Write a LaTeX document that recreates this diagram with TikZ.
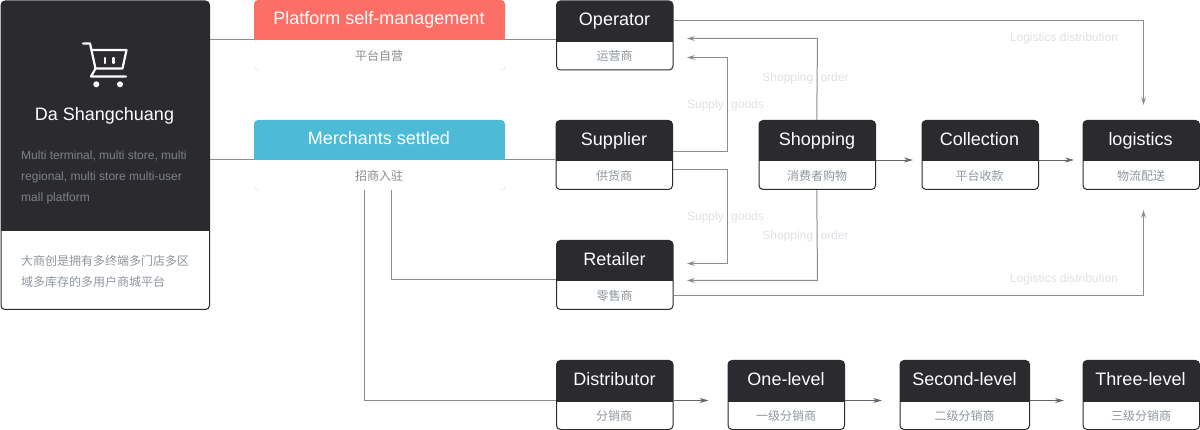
\documentclass[tikz,border=0pt]{standalone}
\usepackage{fontspec}
\setmainfont{Liberation Sans}
\newfontfamily\cjk{Noto Sans CJK SC}
\usetikzlibrary{arrows.meta}
\definecolor{cardink}{HTML}{2A2A2F}
\definecolor{cardred}{HTML}{FC6F66}
\definecolor{cardblue}{HTML}{4DBBD5}
\definecolor{linkgray}{HTML}{8A8C8E}
\definecolor{tipgray}{HTML}{60666C}
\definecolor{subgray}{HTML}{8E979F}
\definecolor{notegray}{HTML}{DDE0E4}
\definecolor{descgray}{HTML}{7C838B}
\tikzset{
	cardbox/.style={draw=cardink,line width=1pt,fill=white,rounded corners=4pt,anchor=north west,minimum height=69pt,inner sep=0pt,
		path picture={\fill[cardink,sharp corners] (path picture bounding box.north west) rectangle ([yshift=-41pt]path picture bounding box.north east);}},
	cardtitle/.style={text=white,font=\fontsize{18}{20}\selectfont,inner sep=0pt,anchor=base},
	cardsub/.style={text=subgray,font=\fontsize{12}{14}\cjk,inner sep=0pt},
	note/.style={text=notegray,font=\fontsize{12}{14}\selectfont,inner sep=0pt},
	link/.style={draw=linkgray,line width=1pt},
	linkback/.style={link,-{Stealth[length=8pt,width=5pt,inset=3pt,fill=linkgray]}},
	linkflow/.style={draw=tipgray,line width=.8pt,-{Stealth[length=9pt,width=5pt,inset=3pt]}},
}
\begin{document}
\begin{tikzpicture}[x=1pt,y=-1pt]
	\useasboundingbox (0,0) rectangle (1200,430);
	% left panel
	\node[cardbox,minimum width=208.5pt,minimum height=308.5pt,path picture={\fill[cardink,sharp corners] (path picture bounding box.north west) rectangle ([yshift=-230.5pt]path picture bounding box.north east);\fill[white,sharp corners] ([yshift=-230.5pt]path picture bounding box.north west) rectangle (path picture bounding box.south east);}] (panel) at (.5,.5) {};
	% lines that run behind the two colour blocks
	\draw[link] (209.5,39.5) -- (556,39.5);
	\draw[link] (209.5,159.5) -- (555,159.5);
	% colour blocks
	\node[draw=white,fill=white,rounded corners=4pt,anchor=north west,minimum width=250pt,minimum height=30pt,inner sep=0pt] (platformbody) at (254.5,40) {};
	\node[draw=white,fill=white,rounded corners=4pt,anchor=north west,minimum width=250pt,minimum height=30pt,inner sep=0pt] (merchantbody) at (254.5,160) {};
	\fill[cardred,rounded corners=4pt] (254,0) rectangle (505,20);
	\fill[cardred] (254,10) rectangle (505,40);
	\fill[cardblue,rounded corners=4pt] (254,120) rectangle (505,140);
	\fill[cardblue] (254,130) rectangle (505,160);
	\draw[notegray] ([yshift=4pt]platformbody.south west) arc (180:270:4pt);
	\draw[notegray] ([xshift=-4pt]platformbody.south east) arc (270:360:4pt);
	\draw[notegray] ([yshift=4pt]merchantbody.south west) arc (180:270:4pt);
	\draw[notegray] ([xshift=-4pt]merchantbody.south east) arc (270:360:4pt);
	\node[cardtitle] (platform) at (379,25) {Platform self-management};
	\node[cardtitle] (merchant) at (379,145) {Merchants settled};
	\node[cardsub,text=black!45] (platformsub) at (379,56) {平台自营};
	\node[cardsub,text=black!45] (merchantsub) at (379,176) {招商入驻};
	% panel text
	\node[cardtitle] (paneltitle) at (104.5,121) {Da Shangchuang};
	\node[text=descgray,font=\fontsize{12}{21}\selectfont,anchor=north west,align=left,inner sep=0pt] (paneldesc) at (21,151) {Multi terminal, multi store, multi\\regional, multi store multi-user\\mall platform};
	\node[text=subgray,font=\fontsize{12}{21}\cjk,anchor=north west,align=left,inner sep=0pt] (panelnote) at (21,255) {大商创是拥有多终端多门店多区\\域多库存的多用户商城平台};
	% cart icon
	\draw[white,line width=2.2pt,line join=round,line cap=round] (83,43.5) -- (90,43.5) -- (95.5,68.5) -- (91,76.5) -- (126,76.5);
	\draw[white,line width=2.2pt,line join=round,line cap=round] (91.5,50) -- (126.5,50) -- (122.5,68.5) -- (95.5,68.5);
	\draw[white,line width=2.2pt,line cap=round] (105,58) -- (105,63) (113.5,58) -- (113.5,63);
	\fill[white] (96.3,84.3) circle (3pt) (120,84.3) circle (3pt);
	% cards
	\node[cardbox,minimum width=116.5pt] (operator) at (556,.5) {};
	\node[cardtitle] (operatortitle) at (614.5,25.5) {Operator};
	\node[cardsub] (operatorsub) at (614.5,56) {运营商};
	\node[cardbox,minimum width=116.5pt] (supplier) at (555.5,120) {};
	\node[cardtitle] (suppliertitle) at (614,145.5) {Supplier};
	\node[cardsub] (suppliersub) at (614,176) {供货商};
	\node[cardbox,minimum width=116.5pt] (retailer) at (556,240) {};
	\node[cardtitle] (retailertitle) at (614.5,265.5) {Retailer};
	\node[cardsub] (retailersub) at (614.5,296) {零售商};
	\node[cardbox,minimum width=116.5pt] (shopping) at (758.5,120) {};
	\node[cardtitle] (shoppingtitle) at (817,145.5) {Shopping};
	\node[cardsub] (shoppingsub) at (817,176) {消费者购物};
	\node[cardbox,minimum width=116.5pt] (collection) at (921.5,120) {};
	\node[cardtitle] (collectiontitle) at (979.5,145.5) {Collection};
	\node[cardsub] (collectionsub) at (979.5,176) {平台收款};
	\node[cardbox,minimum width=116.5pt] (logistics) at (1082.5,120) {};
	\node[cardtitle] (logisticstitle) at (1140.5,145.5) {logistics};
	\node[cardsub] (logisticssub) at (1141,176) {物流配送};
	\node[cardbox,minimum width=116.5pt] (distributor) at (556,360) {};
	\node[cardtitle] (distributortitle) at (614.5,385.5) {Distributor};
	\node[cardsub] (distributorsub) at (614,416) {分销商};
	\node[cardbox,minimum width=116.5pt] (onelevel) at (727.5,360) {};
	\node[cardtitle] (oneleveltitle) at (786,385.5) {One-level};
	\node[cardsub] (onelevelsub) at (786,416) {一级分销商};
	\node[cardbox,minimum width=129.5pt] (secondlevel) at (899.5,360) {};
	\node[cardtitle] (secondleveltitle) at (964.5,385.5) {Second-level};
	\node[cardsub] (secondlevelsub) at (964.5,416) {二级分销商};
	\node[cardbox,minimum width=116.5pt] (threelevel) at (1082.5,360) {};
	\node[cardtitle] (threeleveltitle) at (1140.5,385.5) {Three-level};
	\node[cardsub] (threelevelsub) at (1141,416) {三级分销商};
	% free ends of the connectors
	\coordinate (operatorin) at (687,38.5);
	\coordinate (operatorin2) at (687,57.5);
	\coordinate (retailerin) at (687,263.5);
	\coordinate (retailerin2) at (687,280.5);
	\coordinate (logisticsin) at (1143.5,105);
	\coordinate (logisticsin2) at (1143.5,210);
	% connectors
	\draw[linkback] (operator.north east |- 0,20.5) -- (1143.5,20.5) -- (logisticsin);
	\draw[linkback] (retailer.north east |- 0,295.5) -- (1143.5,295.5) -- (logisticsin2);
	\draw[linkback] (shopping.north |- 0,120) ++(-.5,0) -- (817.5,38.5) -- (operatorin);
	\draw[linkback] (shopping.south) ++(-.5,0) -- (817.5,280.5) -- (retailerin2);
	\draw[linkback] (supplier.north east |- 0,151.5) -- (727.5,151.5) -- (727.5,57.5) -- (operatorin2);
	\draw[linkback] (supplier.north east |- 0,169.5) -- (727.5,169.5) -- (727.5,263.5) -- (retailerin);
	\draw[link] (391.5,190) -- (391.5,279.5) -- (retailer.north west |- 0,279.5);
	\draw[link] (364.5,190) -- (364.5,400.5) -- (distributor.north west |- 0,400.5);
	\draw[linkflow] (shopping.north east |- 0,160) -- (913,160);
	\draw[linkflow] (collection.north east |- 0,160) -- (1074,160);
	\draw[linkflow] (distributor.north east |- 0,400.5) -- (708.5,400.5);
	\draw[linkflow] (onelevel.north east |- 0,400.5) -- (882,400.5);
	\draw[linkflow] (secondlevel.north east |- 0,400.5) -- (1064,400.5);
	% connector labels
	\node[note] (supplyup) at (725.5,105) {Supply\hspace{4pt} goods};
	\node[note] (supplydown) at (725.5,217) {Supply\hspace{4pt} goods};
	\node[note] (orderup) at (805.5,78.5) {Shopping\hspace{4pt} order};
	\node[note] (orderdown) at (805.5,236) {Shopping\hspace{4pt} order};
	\node[note] (logisticsup) at (1064,38) {Logistics distribution};
	\node[note] (logisticsdown) at (1064,279.5) {Logistics distribution};
\end{tikzpicture}
\end{document}
